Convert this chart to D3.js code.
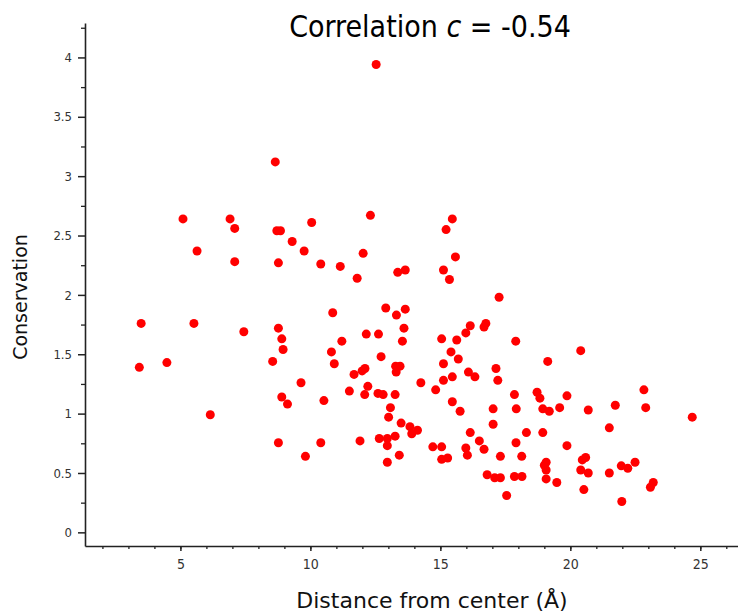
<!DOCTYPE html>
<html>
<head>
<meta charset="utf-8">
<script src="https://cdn.jsdelivr.net/npm/d3@7"></script>
<style>
  body { margin: 0; background: #fff; }
  .tick text { font-family: "Liberation Sans Narrow", "DejaVu Sans Condensed", sans-serif; fill: #333; }
</style>
</head>
<body>
<div id="chart"></div>
<script>
// distance from center (Å) and conservation
const distance = [
  8.65, 5.10, 6.91, 7.09, 8.71, 8.85, 9.30, 10.05, 9.76, 5.64,
  7.09, 8.77, 3.49, 5.52, 7.44, 8.77, 8.90, 8.95, 8.55, 3.42,
  4.48, 9.64, 8.90, 9.12, 6.15, 8.77, 9.81, 12.31, 15.46, 15.22,
  10.40, 11.15, 12.03, 11.80, 13.36, 13.65, 15.12, 15.58, 15.35, 17.26,
  10.86, 12.90, 13.65, 13.31, 13.60, 12.15, 12.62, 11.21, 13.54, 10.81,
  12.72, 15.05, 15.63, 15.41, 15.69, 15.98, 16.15, 16.68, 16.75, 17.90,
  10.92, 11.68, 11.99, 12.10, 13.28, 13.45, 13.30, 14.25, 15.12, 15.46,
  15.12, 14.82, 16.08, 16.33, 17.14, 17.21, 11.50, 12.21, 12.09, 12.60,
  12.80, 13.26, 10.52, 13.08, 13.01, 13.49, 13.83, 13.90, 14.12, 12.65,
  12.96, 13.26, 12.96, 11.91, 10.40, 13.42, 12.96, 15.46, 15.76, 17.03,
  17.85, 17.92, 17.03, 16.15, 16.50, 16.68, 14.71, 15.05, 15.05, 15.28,
  15.98, 16.04, 17.31, 17.91, 16.80, 17.09, 17.31, 17.85, 17.55, 20.40,
  19.13, 18.72, 18.83, 19.87, 18.94, 19.19, 19.59, 20.69, 21.73, 22.83,
  22.90, 24.69, 21.50, 18.31, 18.94, 19.87, 18.13, 19.07, 19.00, 19.07,
  20.46, 20.59, 20.40, 20.69, 21.50, 21.96, 22.21, 22.49, 18.14, 19.07,
  19.48, 23.08, 23.19, 20.52, 21.98, 12.53
];
const conservation = [
  3.12, 2.64, 2.64, 2.56, 2.54, 2.54, 2.45, 2.61, 2.37, 2.37,
  2.28, 2.27, 1.76, 1.76, 1.69, 1.72, 1.63, 1.54, 1.44, 1.39,
  1.43, 1.26, 1.14, 1.08, 0.99, 0.755, 0.64, 2.67, 2.64, 2.55,
  2.26, 2.24, 2.35, 2.14, 2.19, 2.21, 2.21, 2.32, 2.13, 1.98,
  1.85, 1.89, 1.88, 1.83, 1.72, 1.67, 1.67, 1.61, 1.61, 1.52,
  1.48, 1.63, 1.62, 1.52, 1.46, 1.68, 1.74, 1.73, 1.76, 1.61,
  1.42, 1.33, 1.36, 1.38, 1.40, 1.40, 1.35, 1.26, 1.42, 1.31,
  1.28, 1.20, 1.35, 1.31, 1.38, 1.28, 1.19, 1.23, 1.16, 1.17,
  1.16, 1.16, 1.11, 1.05, 0.97, 0.92, 0.89, 0.83, 0.86, 0.79,
  0.79, 0.81, 0.73, 0.77, 0.755, 0.65, 0.59, 1.10, 1.02, 1.04,
  1.16, 1.04, 0.91, 0.84, 0.77, 0.70, 0.72, 0.72, 0.615, 0.626,
  0.71, 0.65, 0.64, 0.755, 0.485, 0.46, 0.46, 0.47, 0.31, 1.53,
  1.44, 1.18, 1.13, 1.15, 1.04, 1.02, 1.05, 1.03, 1.07, 1.20,
  1.05, 0.97, 0.88, 0.84, 0.84, 0.73, 0.64, 0.59, 0.565, 0.525,
  0.61, 0.63, 0.525, 0.50, 0.50, 0.56, 0.54, 0.59, 0.47, 0.45,
  0.42, 0.38, 0.42, 0.36, 0.26, 3.94
];
const xTicks = [5, 10, 15, 20, 25];
const yTicks = [0, 0.5, 1, 1.5, 2, 2.5, 3, 3.5, 4];
const title = "Correlation";
const corr = "-0.54";

const width = 738, height = 612;
const marginLeft = 85, marginRight = 0, marginTop = 23, marginBottom = 66;

const x = d3.scaleLinear().domain([1.33, 26.45]).range([marginLeft, width - marginRight]);
const y = d3.scaleLinear().domain([-0.115, 4.29]).range([height - marginBottom, marginTop]);

const svg = d3.select("#chart").append("svg")
    .attr("width", width)
    .attr("height", height)
    .attr("viewBox", [0, 0, width, height]);

// minor ticks first, then major axes on top
svg.append("g")
    .attr("transform", `translate(0,${height - marginBottom})`)
    .call(d3.axisBottom(x).tickValues(d3.range(2, 27)).tickSize(3).tickFormat(""))
    .call(g => g.select(".domain").remove())
    .call(g => g.selectAll(".tick line").attr("stroke", "#222").attr("stroke-width", 1.3));

svg.append("g")
    .attr("transform", `translate(${marginLeft},0)`)
    .call(d3.axisLeft(y).tickValues(d3.range(0.25, 4.3, 0.5)).tickSize(4).tickFormat(""))
    .call(g => g.select(".domain").remove())
    .call(g => g.selectAll(".tick line").attr("stroke", "#222").attr("stroke-width", 1.3));

svg.append("g")
    .attr("transform", `translate(0,${height - marginBottom})`)
    .call(d3.axisBottom(x).tickValues(xTicks).tickSize(5).tickSizeOuter(0).tickPadding(8).tickFormat(d => d))
    .call(g => g.select(".domain").attr("stroke", "#222").attr("stroke-width", 1.6))
    .call(g => g.selectAll(".tick line").attr("stroke", "#222").attr("stroke-width", 1.5))
    .call(g => g.selectAll(".tick text").attr("font-size", 14));

svg.append("g")
    .attr("transform", `translate(${marginLeft},0)`)
    .call(d3.axisLeft(y).tickValues(yTicks).tickSize(7).tickSizeOuter(0).tickPadding(6).tickFormat(d => d))
    .call(g => g.select(".domain").attr("stroke", "#222").attr("stroke-width", 1.6))
    .call(g => g.selectAll(".tick line").attr("stroke", "#222").attr("stroke-width", 1.5))
    .call(g => g.selectAll(".tick text").attr("font-size", 13));

svg.append("g")
    .attr("fill", "#ff0000")
  .selectAll("circle")
  .data(d3.range(distance.length))
  .join("circle")
    .attr("cx", i => x(distance[i]))
    .attr("cy", i => y(conservation[i]))
    .attr("r", 4.5);

const t = svg.append("text")
    .attr("x", 430)
    .attr("y", 37)
    .attr("text-anchor", "middle")
    .attr("font-family", "'DejaVu Sans Condensed', sans-serif")
    .attr("font-size", 30)
    .attr("fill", "#000");
t.append("tspan").text(title + " ");
t.append("tspan").attr("font-style", "italic").text("c");
t.append("tspan").text(" = " + corr);

svg.append("text")
    .attr("x", 432)
    .attr("y", 608)
    .attr("text-anchor", "middle")
    .attr("font-family", "'DejaVu Sans', sans-serif")
    .attr("font-size", 22)
    .attr("fill", "#111")
    .text("Distance from center (Å)");

svg.append("text")
    .attr("transform", "translate(27,297) rotate(-90)")
    .attr("text-anchor", "middle")
    .attr("font-family", "'DejaVu Sans', sans-serif")
    .attr("font-size", 19)
    .attr("fill", "#111")
    .text("Conservation");
</script>
</body>
</html>
